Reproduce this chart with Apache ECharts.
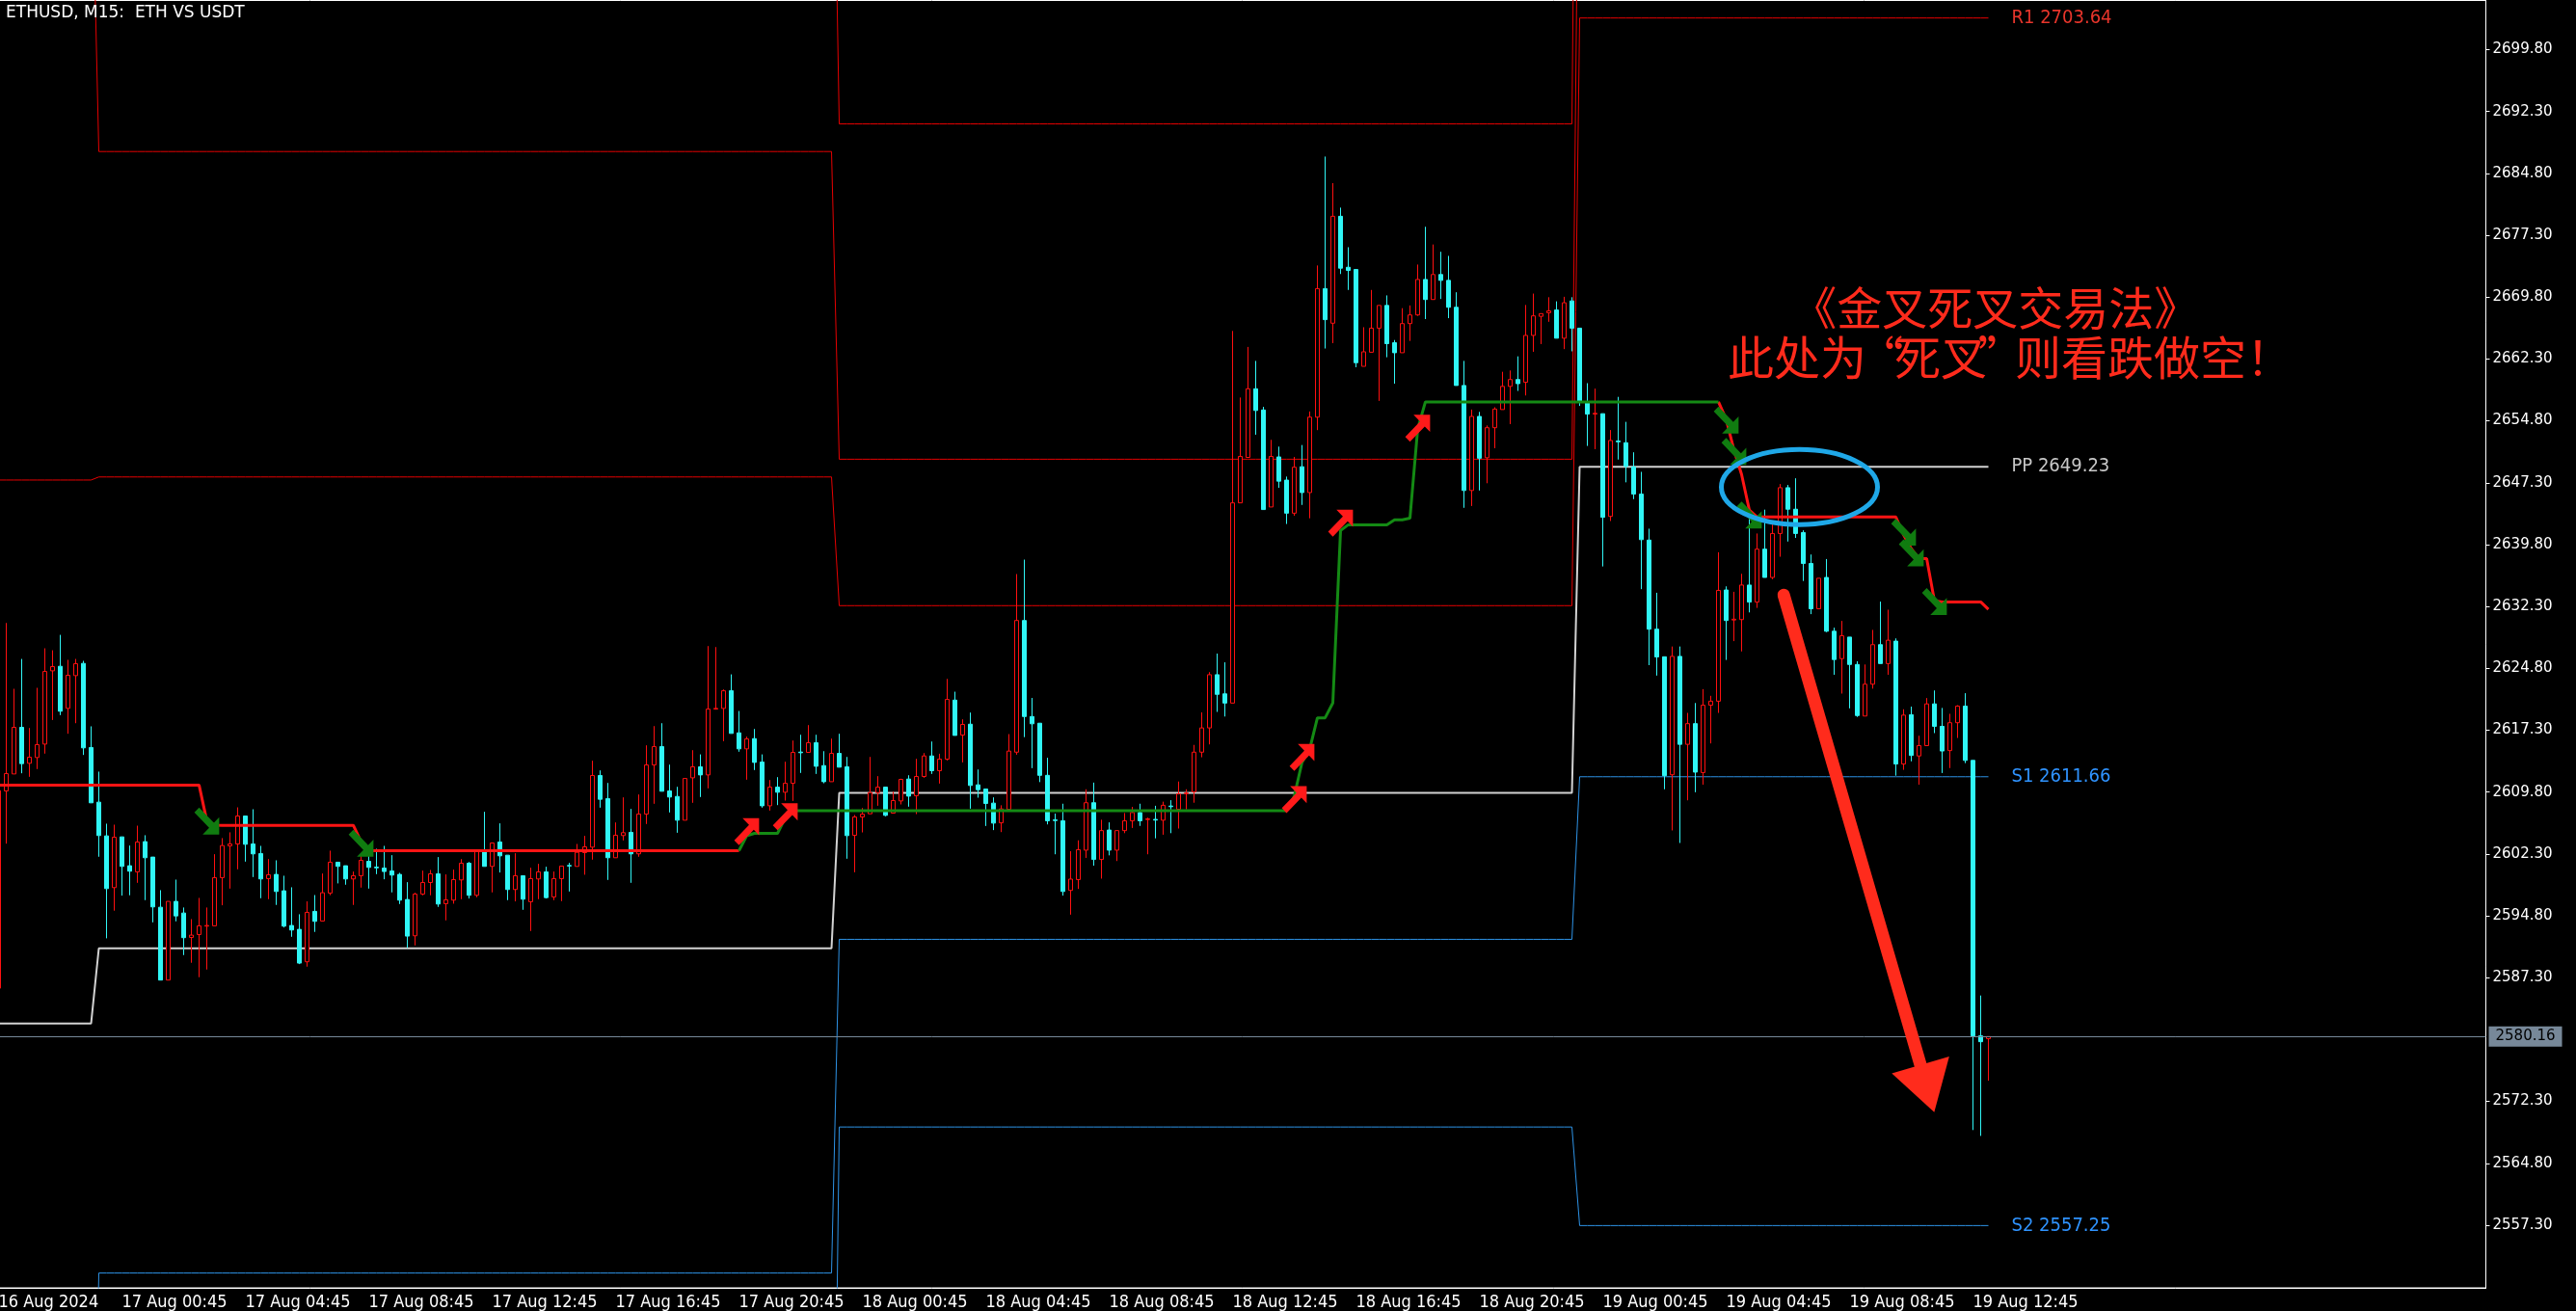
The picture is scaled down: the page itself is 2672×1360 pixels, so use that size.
<!DOCTYPE html>
<html><head><meta charset="utf-8">
<script src="https://cdn.jsdelivr.net/npm/echarts@6/dist/echarts.min.js"></script>
<style>html,body{margin:0;padding:0;background:#000;}#c{width:2672px;height:1360px;}</style>
</head><body><div id="c"></div>
<script>
// ---------- tick labels ----------
const tickLabels = ['16 Aug 2024','17 Aug 00:45','17 Aug 04:45','17 Aug 08:45','17 Aug 12:45','17 Aug 16:45','17 Aug 20:45',
  '18 Aug 00:45','18 Aug 04:45','18 Aug 08:45','18 Aug 12:45','18 Aug 16:45','18 Aug 20:45',
  '19 Aug 00:45','19 Aug 04:45','19 Aug 08:45','19 Aug 12:45'];
const yTicks = [2557.30,2564.80,2572.30,2587.30,2594.80,2602.30,2609.80,2617.30,2624.80,2632.30,2639.80,2647.30,2654.80,2662.30,2669.80,2677.30,2684.80,2692.30,2699.80];

// ---------- candles (M15 bars, bar 0 = 16 Aug 20:45) ----------
const opens = [2586.03,2609.94,2612.00,2617.65,2613.29,2613.99,2615.62,2624.50,2625.05,2619.95,2623.92,2625.40,2615.20,2608.58,2604.49,2598.22,2604.37,2600.87,2600.13,2603.79,
2601.92,2595.84,2587.01,2596.55,2595.14,2592.18,2592.53,2593.55,2593.59,2599.43,2603.28,2603.51,2606.90,2603.51,2602.35,2599.31,2599.82,2597.83,2593.63,2593.16,
2589.23,2595.34,2594.17,2597.56,2601.30,2600.87,2599.27,2599.66,2601.41,2600.70,2600.59,2600.24,2599.82,2596.78,2592.38,2597.44,2598.84,2599.89,2596.27,2596.70,
2599.15,2601.18,2597.29,2602.74,2600.79,2603.75,2602.15,2597.99,2599.66,2596.51,2599.27,2600.13,2597.09,2599.31,2600.90,2600.79,2602.46,2603.12,2611.81,2609.01,
2601.84,2604.53,2604.92,2602.31,2607.14,2613.09,2615.31,2609.94,2609.27,2606.39,2611.53,2612.86,2611.88,2619.86,2619.94,2622.08,2616.98,2615.04,2616.28,2613.44,
2608.14,2610.40,2609.78,2610.87,2614.65,2614.61,2615.78,2613.01,2611.06,2614.49,2612.86,2604.56,2606.78,2607.17,2609.74,2610.40,2607.25,2608.73,2611.38,2609.35,
2611.69,2614.18,2612.39,2613.79,2620.95,2616.71,2618.03,2610.68,2610.17,2608.46,2606.07,2607.70,2614.64,2630.60,2618.96,2618.15,2611.83,2606.43,2606.32,2597.88,
2599.19,2602.76,2608.51,2601.63,2605.20,2602.76,2605.13,2606.32,2607.32,2606.47,2606.49,2606.39,2608.11,2607.70,2609.60,2609.83,2614.64,2617.58,2624.03,2621.71,
2620.59,2644.86,2650.37,2658.69,2656.12,2644.36,2650.43,2647.62,2643.61,2649.24,2646.11,2655.25,2670.83,2666.64,2679.60,2673.42,2673.15,2661.41,2663.12,2666.04,
2668.79,2664.27,2663.06,2666.59,2667.64,2671.94,2669.51,2672.54,2671.83,2668.57,2659.09,2646.36,2655.34,2650.33,2653.97,2656.17,2658.98,2659.81,2659.48,2665.16,
2667.47,2667.91,2668.24,2664.82,2669.34,2666.04,2657.11,2655.62,2655.67,2643.22,2652.36,2652.15,2649.22,2645.92,2640.35,2629.55,2626.20,2611.90,2626.25,2615.59,
2618.10,2612.17,2620.33,2620.82,2634.30,2630.66,2630.71,2634.90,2632.83,2639.25,2635.82,2641.15,2646.70,2644.09,2641.26,2637.51,2632.02,2635.82,2629.30,2625.98,
2628.59,2625.27,2619.02,2622.88,2627.67,2625.38,2628.10,2613.20,2619.18,2614.18,2615.43,2620.49,2617.77,2614.83,2618.21,2620.22,2613.64,2580.25,2579.90];
const closes = [2609.98,2612.04,2617.65,2613.25,2614.03,2615.55,2624.42,2625.01,2619.60,2623.96,2625.36,2615.16,2608.50,2604.53,2598.10,2604.33,2600.79,2600.21,2603.75,2601.84,
2595.88,2587.01,2596.55,2594.79,2592.15,2592.46,2593.59,2593.63,2599.43,2603.32,2603.51,2606.90,2603.47,2602.31,2599.27,2599.78,2597.75,2593.55,2593.08,2589.07,
2595.22,2594.13,2597.60,2601.30,2600.79,2599.27,2599.66,2601.53,2600.67,2600.62,2600.17,2599.74,2596.70,2592.34,2597.44,2598.84,2599.89,2596.23,2596.74,2599.19,
2601.18,2597.29,2602.74,2600.79,2603.63,2602.07,2597.99,2599.66,2596.82,2599.31,2600.13,2597.01,2599.31,2600.83,2600.84,2602.50,2603.16,2611.81,2608.93,2601.84,
2604.57,2604.88,2602.31,2607.14,2613.09,2615.31,2609.90,2609.20,2606.39,2611.45,2612.86,2611.88,2619.86,2619.95,2622.08,2616.91,2615.04,2616.24,2613.40,2608.14,
2610.40,2609.78,2610.87,2614.61,2614.57,2615.78,2612.93,2611.06,2614.49,2612.82,2604.52,2606.78,2607.13,2609.74,2610.40,2606.98,2608.77,2611.34,2609.31,2611.69,
2614.18,2612.39,2613.79,2621.03,2616.67,2618.00,2610.60,2610.09,2608.42,2606.04,2607.76,2614.77,2630.60,2618.96,2618.08,2611.83,2606.32,2606.35,2597.75,2599.25,
2602.82,2608.51,2601.63,2605.13,2602.76,2605.13,2606.32,2607.32,2606.32,2606.55,2606.41,2608.20,2608.03,2609.58,2609.68,2614.64,2617.58,2624.03,2621.65,2620.59,
2644.86,2650.49,2658.69,2656.06,2644.05,2650.49,2647.49,2643.61,2649.18,2646.11,2655.25,2670.83,2667.07,2679.60,2673.31,2673.04,2661.85,2663.17,2666.04,2668.79,
2664.16,2663.06,2666.59,2667.64,2671.94,2669.51,2672.54,2671.83,2668.57,2659.09,2646.36,2655.34,2650.27,2653.97,2656.23,2658.98,2659.81,2659.31,2665.16,2667.53,
2667.80,2668.13,2664.82,2669.12,2666.04,2657.16,2655.62,2655.72,2643.11,2652.42,2652.26,2649.28,2645.92,2640.40,2629.55,2626.18,2611.79,2626.25,2615.59,2618.10,
2612.22,2620.33,2620.82,2634.25,2630.60,2630.76,2634.90,2632.83,2639.25,2635.82,2641.15,2646.70,2644.09,2641.15,2637.51,2632.02,2635.72,2629.30,2625.87,2628.75,
2625.27,2619.08,2622.88,2627.67,2625.38,2628.21,2613.20,2619.13,2614.24,2615.43,2620.49,2617.77,2614.78,2618.21,2620.22,2613.64,2580.25,2579.54,2580.16];
const lows = [2585.00,2603.55,2612.00,2612.08,2611.65,2612.59,2614.46,2618.54,2619.13,2616.87,2618.15,2614.30,2608.50,2601.96,2592.07,2595.42,2597.25,2597.29,2598.80,2596.70,
2594.01,2587.01,2587.01,2594.13,2590.04,2589.11,2587.36,2588.29,2593.59,2596.08,2598.10,2600.44,2601.37,2599.50,2596.93,2596.82,2596.12,2593.39,2592.26,2588.95,
2588.64,2592.85,2594.17,2597.30,2598.73,2598.57,2596.12,2598.22,2598.10,2599.85,2599.23,2597.64,2596.23,2590.90,2591.21,2597.29,2597.29,2595.88,2594.25,2596.27,
2596.82,2596.90,2597.05,2600.79,2597.64,2600.05,2596.70,2596.55,2595.53,2592.96,2596.82,2596.90,2596.70,2596.58,2597.75,2600.79,2599.78,2601.61,2607.91,2599.15,
2601.84,2603.94,2598.80,2601.96,2605.93,2608.38,2609.90,2607.33,2604.87,2606.39,2608.50,2609.20,2610.25,2619.80,2615.97,2616.91,2614.69,2611.30,2612.47,2607.91,
2607.56,2608.22,2608.77,2608.73,2612.12,2614.61,2612.00,2610.87,2611.06,2612.82,2601.72,2600.08,2604.91,2607.17,2608.14,2606.86,2607.25,2608.30,2608.03,2607.13,
2611.53,2612.00,2610.83,2613.63,2616.67,2613.40,2607.79,2609.12,2605.69,2605.19,2604.95,2607.70,2614.33,2616.46,2612.70,2611.01,2605.88,2602.26,2597.25,2594.94,
2598.06,2601.82,2600.88,2599.31,2602.13,2601.44,2604.82,2605.45,2605.70,2602.26,2604.19,2604.63,2604.82,2605.38,2607.70,2608.51,2614.02,2615.58,2619.52,2618.96,
2620.59,2644.86,2650.37,2653.12,2644.05,2644.36,2646.68,2642.30,2643.30,2644.61,2642.99,2653.68,2663.57,2664.22,2672.60,2670.67,2661.30,2661.41,2663.12,2657.22,
2662.51,2659.31,2663.06,2664.49,2667.53,2667.14,2669.51,2669.57,2667.25,2659.09,2644.26,2644.48,2646.36,2647.24,2651.48,2656.17,2654.41,2658.43,2657.88,2663.17,
2664.11,2666.81,2664.82,2663.50,2663.23,2656.61,2651.76,2651.37,2637.15,2642.66,2650.11,2647.35,2645.31,2634.40,2625.19,2623.92,2610.14,2605.15,2603.63,2608.80,
2609.78,2610.70,2615.70,2619.40,2625.82,2628.10,2626.85,2631.58,2632.13,2635.82,2635.61,2638.33,2640.17,2640.61,2635.39,2631.37,2632.02,2629.19,2624.02,2621.74,
2619.95,2618.91,2619.02,2622.34,2625.38,2624.02,2611.79,2612.50,2613.53,2610.70,2615.43,2616.95,2612.11,2612.71,2616.36,2613.31,2568.83,2568.12,2574.81];
const highs = [2611.00,2630.30,2622.32,2625.94,2617.57,2622.44,2627.23,2626.99,2628.86,2625.83,2625.94,2625.71,2617.77,2612.28,2605.97,2605.85,2604.37,2603.32,2605.73,2604.57,
2601.92,2597.91,2596.55,2599.19,2595.81,2594.40,2596.97,2595.81,2602.27,2604.22,2604.92,2607.95,2606.90,2607.72,2603.28,2601.68,2601.53,2599.66,2598.26,2594.99,
2596.55,2597.32,2599.93,2602.70,2601.30,2600.87,2600.17,2602.15,2602.04,2602.93,2603.28,2602.15,2600.01,2598.88,2597.60,2600.28,2600.36,2601.92,2599.82,2600.40,
2601.68,2601.33,2602.74,2607.41,2603.63,2606.01,2602.15,2602.39,2599.66,2600.63,2601.10,2600.75,2600.17,2600.83,2601.22,2603.51,2604.49,2613.60,2612.43,2610.91,
2606.12,2609.16,2607.76,2609.51,2615.47,2617.80,2618.15,2613.13,2610.44,2611.45,2614.88,2614.37,2627.50,2627.38,2622.24,2624.07,2619.63,2616.52,2617.45,2614.37,
2611.26,2611.61,2613.48,2616.05,2616.75,2617.92,2616.75,2614.76,2616.28,2616.87,2614.06,2607.02,2607.87,2614.06,2611.73,2610.40,2609.86,2611.42,2611.84,2613.83,
2614.53,2615.93,2614.45,2623.52,2621.97,2618.62,2619.44,2612.54,2610.17,2609.16,2608.20,2616.83,2636.23,2637.98,2621.21,2618.15,2613.96,2607.20,2608.39,2602.63,
2603.95,2610.14,2610.95,2606.45,2606.13,2605.13,2607.26,2608.01,2608.39,2606.70,2608.14,2608.64,2608.82,2611.08,2610.14,2615.52,2619.46,2624.34,2626.59,2625.53,
2665.70,2657.63,2663.76,2662.07,2656.50,2652.50,2651.68,2648.05,2650.43,2651.87,2655.94,2673.64,2686.84,2683.62,2680.65,2675.85,2673.15,2666.15,2670.67,2668.79,
2670.01,2664.60,2668.46,2668.79,2673.75,2678.33,2676.18,2675.30,2674.80,2670.39,2662.07,2656.17,2655.89,2654.24,2656.45,2660.75,2660.91,2662.62,2668.85,2670.23,
2667.80,2669.79,2669.29,2669.84,2669.79,2666.04,2659.37,2658.71,2655.67,2653.69,2657.71,2654.68,2650.99,2648.62,2641.73,2633.96,2626.20,2627.45,2627.45,2619.40,
2620.60,2622.28,2621.47,2638.87,2634.74,2634.08,2636.26,2643.87,2641.15,2644.04,2642.24,2647.14,2647.03,2647.84,2641.53,2638.60,2635.72,2638.05,2629.73,2630.55,
2628.59,2625.66,2625.27,2629.46,2632.89,2631.91,2628.43,2619.84,2620.16,2616.63,2621.20,2622.12,2620.00,2619.29,2620.33,2621.79,2613.64,2585.14,2580.20];

// ---------- trend-stop line: [level, number of bars at that level], in bar order ----------
const stRuns = [[2610.65,27],[2606.30,1],[2605.80,1],[2605.77,18],[2603.80,1],[2602.70,49],[2604.50,1],[2604.80,4],[2606.70,1],
  [2607.55,65],[2609.30,1],[2613.40,1],[2615.00,1],[2618.80,2],[2620.60,1],[2641.50,1],[2642.20,6],[2642.80,2],[2643.00,1],[2653.80,1],
  [2657.10,39],[2655.00,1],[2651.30,1],[2648.30,1],[2644.00,1],[2643.15,19],[2641.00,1],[2639.30,1],[2638.10,2],[2633.00,1],[2632.85,6],[2631.95,1]];
const stGreenFrom = 96, stGreenTo = 223;   // bars where the line is green
const upArrows = [[97,2605.0],[102,2606.8],[168,2608.9],[169,2614.0],[174,2642.4],[184,2653.9]];
const downArrows = [[27,2606.3],[47,2603.6],[224,2654.9],[225,2651.1],[227,2643.4],[247,2641.3],[248,2638.8],[251,2632.9]];

// ---------- daily pivot levels (days starting at bar) ----------
const dayStart = [0, 13, 109, 205];
const r3 = [2760.00, 2745.00, 2690.80, 2790.00];
const r2 = [2728.00, 2687.45, 2650.15, 2741.20];
const r1 = [2647.63, 2648.00, 2632.40, 2703.64];
const pp = [2581.76, 2590.86, 2609.70, 2649.23];
const s1 = [2500.00, 2551.50, 2591.95, 2611.66];
const s2 = [2470.00, 2494.00, 2569.20, 2557.25];

const N_SLOTS = 323;
const cats = Array.from({length: N_SLOTS}, (_, i) => String(i));
const lastBar = opens.length - 1;
const lastPrice = closes[lastBar];
const stLine = [];
stRuns.forEach(([v, n]) => { for (let k = 0; k < n; k++) stLine.push(v); });

function perBar(levels) {
  const out = [];
  for (let i = 0; i <= lastBar; i++) {
    let d = 0;
    for (let k = 0; k < dayStart.length; k++) if (i >= dayStart[k]) d = k;
    out.push(levels[d]);
  }
  return out;
}
const isTick = (i) => i % 16 === 0 && i / 16 < tickLabels.length;
const NARROW = '"DejaVu Sans Condensed","Liberation Sans Narrow","DejaVu Sans",sans-serif';

function pivotSeries(levels, color, width, label, labelColor) {
  return {
    type: 'line', data: perBar(levels), symbol: 'none', silent: true, z: 1,
    lineStyle: { color: color, width: width },
    endLabel: label ? { show: true, formatter: label, color: labelColor, fontFamily: NARROW, fontSize: 20, distance: 24 } : { show: false }
  };
}

const ARROW_UP = 'path://M7,0L21,0L21,14L16.5,9.5L4,22L0,18L12.5,5.5Z';
const ARROW_DOWN = 'path://M7,22L21,22L21,8L16.5,12.5L4,0L0,4L12.5,16.5Z';

const chart = echarts.init(document.getElementById('c'), null, { width: 2672, height: 1360 });
chart.setOption({
  animation: false,
  backgroundColor: '#000',
  grid: { left: -5.5, top: 0.5, width: 2584, height: 1335.5, show: true, borderColor: '#fff', borderWidth: 1, containLabel: false, outerBoundsMode: 'none' },
  xAxis: {
    type: 'category', data: cats, boundaryGap: true,
    axisLine: { lineStyle: { color: '#fff', width: 1 } },
    axisTick: { interval: (i) => isTick(i), alignWithLabel: true, length: 4, lineStyle: { color: '#fff' } },
    axisLabel: { interval: (i) => isTick(i), formatter: (v, i) => tickLabels[Number(v) / 16] || '',
      align: 'left', color: '#fff', fontFamily: NARROW, fontSize: 18, margin: 6 },
    splitLine: { show: false }
  },
  yAxis: {
    type: 'value', position: 'right', min: 2549.70, max: 2705.76, scale: true,
    axisLine: { show: true, lineStyle: { color: '#fff', width: 1 } },
    axisTick: { show: true, length: 4, customValues: yTicks, lineStyle: { color: '#fff' } },
    axisLabel: { customValues: yTicks, formatter: (v) => Number(v).toFixed(2), color: '#fff', fontFamily: '"DejaVu Sans",sans-serif', fontSize: 15, margin: 7 },
    splitLine: { show: false }
  },
  series: [
    pivotSeries(r3, '#e60000', 1),
    pivotSeries(r2, '#e60000', 1),
    pivotSeries(r1, '#e60000', 1, 'R1 ' + r1[3].toFixed(2), '#e8352b'),
    pivotSeries(s2, '#2e93e6', 1, 'S2 ' + s2[3].toFixed(2), '#2f93ff'),
    pivotSeries(s1, '#2e93e6', 1, 'S1 ' + s1[3].toFixed(2), '#2f93ff'),
    pivotSeries(pp, '#d2d2d2', 2, 'PP ' + pp[3].toFixed(2), '#c8c8c8'),
    {
      type: 'candlestick', z: 2, barWidth: 4,
      data: opens.map((o, i) => [o, closes[i], lows[i], highs[i]]),
      itemStyle: { color: '#000', color0: '#30f6f6', borderColor: '#ff1010', borderColor0: '#30f6f6', borderWidth: 1 },
      markLine: {
        silent: true, symbol: 'none', animation: false,
        lineStyle: { color: '#778899', width: 1, type: 'solid' },
        label: { show: true, position: 'end', distance: 3, formatter: lastPrice.toFixed(2), color: '#000', backgroundColor: '#778899',
          padding: [3, 7, 3, 7], fontFamily: '"DejaVu Sans",sans-serif', fontSize: 15 },
        data: [{ yAxis: lastPrice }]
      }
    },
    { type: 'line', z: 3, symbol: 'none', silent: true, connectNulls: false,
      data: stLine.map((v, i) => (i <= stGreenFrom || i >= stGreenTo) ? v : null),
      lineStyle: { color: '#ff1414', width: 3 } },
    { type: 'line', z: 3, symbol: 'none', silent: true,
      data: stLine.map((v, i) => (i >= stGreenFrom && i <= stGreenTo) ? v : null),
      lineStyle: { color: '#148a14', width: 3 } },
    { type: 'scatter', z: 4, silent: true, data: upArrows,
      symbol: ARROW_UP, symbolSize: [27, 28], symbolKeepAspect: true,
      itemStyle: { color: '#ff1a1a', opacity: 1 } },
    { type: 'scatter', z: 4, silent: true, data: downArrows,
      symbol: ARROW_DOWN, symbolSize: [27, 28], symbolKeepAspect: true,
      itemStyle: { color: '#107c10', opacity: 1 } }
  ]
});

// ---------- annotations anchored in data space ----------
const noteLine1 = { bar: 232.46, price: 2668.50 };
const noteLine2 = { bar: 224.20, price: 2662.54 };
const ellipseAt = { bar: 233.5, price: 2646.78 };
const arrowFrom = { bar: 231.46, price: 2633.69 };
const arrowTo = { bar: 250.98, price: 2571.00 };

function toPx(b, p) {
  const b0 = Math.floor(b), f = b - b0;
  const a = chart.convertToPixel({ xAxisIndex: 0, yAxisIndex: 0 }, [b0, p]);
  const c = chart.convertToPixel({ xAxisIndex: 0, yAxisIndex: 0 }, [b0 + 1, p]);
  return [a[0] + (c[0] - a[0]) * f, a[1]];
}
const t1 = toPx(noteLine1.bar, noteLine1.price);
const t2 = toPx(noteLine2.bar, noteLine2.price);
const el = toPx(ellipseAt.bar, ellipseAt.price);
const a0 = toPx(arrowFrom.bar, arrowFrom.price);
const a1 = toPx(arrowTo.bar, arrowTo.price);
const dx = a1[0] - a0[0], dy = a1[1] - a0[1], len = Math.hypot(dx, dy);
const ux = dx / len, uy = dy / len, vx = -uy, vy = ux;
const headLen = 51, headHalf = 31;
const base = [a1[0] - ux * headLen, a1[1] - uy * headLen];
const RED = '#ff2b1c';
const CJK = '"Noto Sans CJK SC","Noto Sans CJK TC",sans-serif';
const q = { fontSize: 48, fontFamily: CJK, fill: RED };

chart.setOption({
  graphic: [
    { type: 'text', left: 6, top: 5, z: 100, style: { text: 'ETHUSD, M15:  ETH VS USDT', fill: '#fff', fontSize: 17, fontFamily: '"DejaVu Sans",sans-serif' } },
    { type: 'text', x: t1[0], y: t1[1], z: 100, style: { text: '《金叉死叉交易法》', fill: RED, fontSize: 47, fontFamily: CJK, align: 'left', verticalAlign: 'middle' } },
    { type: 'text', x: t2[0], y: t2[1], z: 100, style: { text: '此处为{qo|“}死叉{qc|”}则看跌做空！', fill: RED, fontSize: 48, fontFamily: CJK, align: 'left', verticalAlign: 'middle',
        rich: { qo: Object.assign({ width: 29, align: 'right' }, q), qc: Object.assign({ width: 29, align: 'left' }, q) } } },
    { type: 'ellipse', z: 100, shape: { cx: el[0], cy: el[1], rx: 81, ry: 39 }, style: { fill: 'rgba(0,0,0,0)', stroke: '#1fa8e8', lineWidth: 5 } },
    { type: 'line', z: 100, shape: { x1: a0[0], y1: a0[1], x2: base[0] + ux * 4, y2: base[1] + uy * 4 }, style: { stroke: RED, lineWidth: 13, lineCap: 'round' } },
    { type: 'polygon', z: 100, shape: { points: [[a1[0], a1[1]], [base[0] + vx * headHalf, base[1] + vy * headHalf], [base[0] - vx * headHalf, base[1] - vy * headHalf]] }, style: { fill: RED } }
  ]
});
</script>
</body></html>
